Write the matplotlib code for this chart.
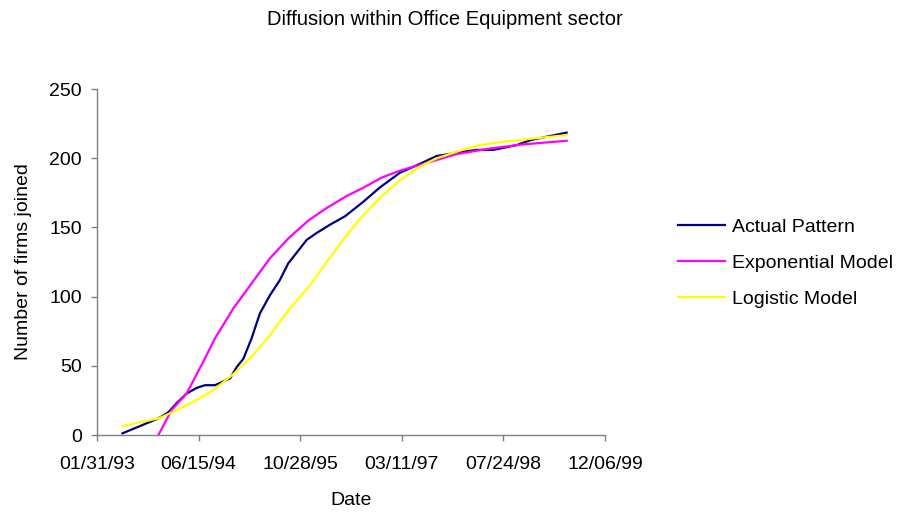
"""Diffusion curve for the Office Equipment sector: actual vs fitted models."""

import matplotlib

matplotlib.use("Agg")
import matplotlib.dates as mdates
import matplotlib.pyplot as plt
import pandas as pd

plt.rcParams["font.family"] = ["Liberation Sans", "DejaVu Sans"]

# ── Series ────────────────────────────────────────────────────────────────
actual_dates = [
    "1993-06-05", "1993-11-29", "1994-01-17", "1994-02-27", "1994-04-17",
    "1994-06-05", "1994-07-16", "1994-09-04", "1994-11-17", "1994-12-19",
    "1995-01-21", "1995-03-03", "1995-04-13", "1995-06-01", "1995-07-20",
    "1995-08-30", "1995-11-29", "1996-01-17", "1996-03-23", "1996-06-04",
    "1996-09-03", "1996-11-24", "1997-03-02", "1997-06-09", "1997-08-30",
    "1998-01-08", "1998-03-14", "1998-06-04", "1998-09-28", "1998-12-02",
    "1999-05-31",
]
actual_values = [
    1.2, 12, 16.4, 23, 30, 34, 36, 36, 41, 49,
    55, 70, 88, 101, 112, 124, 141, 146, 152, 158,
    168.6, 179, 189.5, 196, 201.6, 204.7, 206, 206, 209.5, 213,
    218.5,
]

expo_dates = [
    "1993-11-29", "1994-02-02", "1994-04-17", "1994-07-08", "1994-09-04",
    "1994-12-03", "1995-02-23", "1995-06-01", "1995-08-30", "1995-12-07",
    "1996-03-06", "1996-06-13", "1996-09-03", "1996-12-02", "1997-03-02",
    "1997-08-13", "1997-12-06", "1998-05-19", "1998-10-30", "1999-05-31",
]
expo_values = [
    0, 18, 30, 53, 70, 91.5, 108, 127.7, 142, 155,
    164, 172.7, 178.7, 186, 191, 198, 203, 207, 210, 212.6,
]

logi_dates = [
    "1993-06-05", "1993-11-29", "1994-02-19", "1994-05-20", "1994-08-27",
    "1994-12-03", "1995-03-11", "1995-06-01", "1995-09-08", "1995-12-15",
    "1996-03-06", "1996-06-13", "1996-09-03", "1996-12-02", "1997-03-02",
    "1997-06-09", "1997-08-30", "1997-12-06", "1998-03-14", "1998-06-04",
    "1998-12-02", "1999-05-31",
]
logi_values = [
    6.5, 12, 17.3, 24, 32.5, 44, 58, 72, 91.5, 108,
    125, 144.5, 159, 172.7, 184, 194, 200, 204.7, 209, 211,
    214, 216.7,
]

tick_dates = ["1993-01-31", "1994-06-15", "1995-10-28", "1997-03-11",
              "1998-07-24", "1999-12-06"]
y_ticks = [0, 50, 100, 150, 200, 250]

AXIS_GREY = "#808080"
FS = 14


def main() -> None:
    fig = plt.figure(figsize=(8.99, 5.19), dpi=100)
    ax = fig.add_axes([0.1079, 0.1618, 0.5651, 0.6667])

    ax.plot(pd.to_datetime(actual_dates), actual_values, color="#000080",
            lw=1.6, label="Actual Pattern")
    ax.plot(pd.to_datetime(expo_dates), expo_values, color="#FF00FF",
            lw=1.6, label="Exponential Model")
    ax.plot(pd.to_datetime(logi_dates), logi_values, color="#FFFF00",
            lw=1.6, label="Logistic Model")

    ticks = pd.to_datetime(tick_dates)
    ax.set_xlim(ticks[0], ticks[-1])
    ax.set_xticks(ticks)
    ax.xaxis.set_major_formatter(mdates.DateFormatter("%m/%d/%y"))
    ax.set_ylim(0, 250)
    ax.set_yticks(y_ticks)

    for side in ("top", "right"):
        ax.spines[side].set_visible(False)
    for side in ("left", "bottom"):
        ax.spines[side].set_color(AXIS_GREY)
        ax.spines[side].set_linewidth(1.0)
    ax.tick_params(axis="both", direction="out", length=4, width=1.0,
                   color=AXIS_GREY, labelsize=FS, labelcolor="black")
    ax.tick_params(axis="x", pad=11)
    ax.tick_params(axis="y", pad=7)

    ax.set_xlabel("Date", fontsize=FS)
    ax.xaxis.set_label_coords(0.5, -0.165)
    ax.set_ylabel("Number of firms joined", fontsize=FS)
    ax.yaxis.set_label_coords(-0.128, 0.5)
    fig.text(0.495, 0.963, "Diffusion within Office Equipment sector",
             ha="center", va="center", fontsize=14.5)

    ax.legend(loc="center left", bbox_to_anchor=(670 / 899, 0.493),
              bbox_transform=fig.transFigure, borderaxespad=0, frameon=False,
              fontsize=FS, handlelength=2.42, handletextpad=0.36,
              labelspacing=0.93)

    fig.savefig("out.png", dpi=100)
    plt.close(fig)


if __name__ == "__main__":
    main()
